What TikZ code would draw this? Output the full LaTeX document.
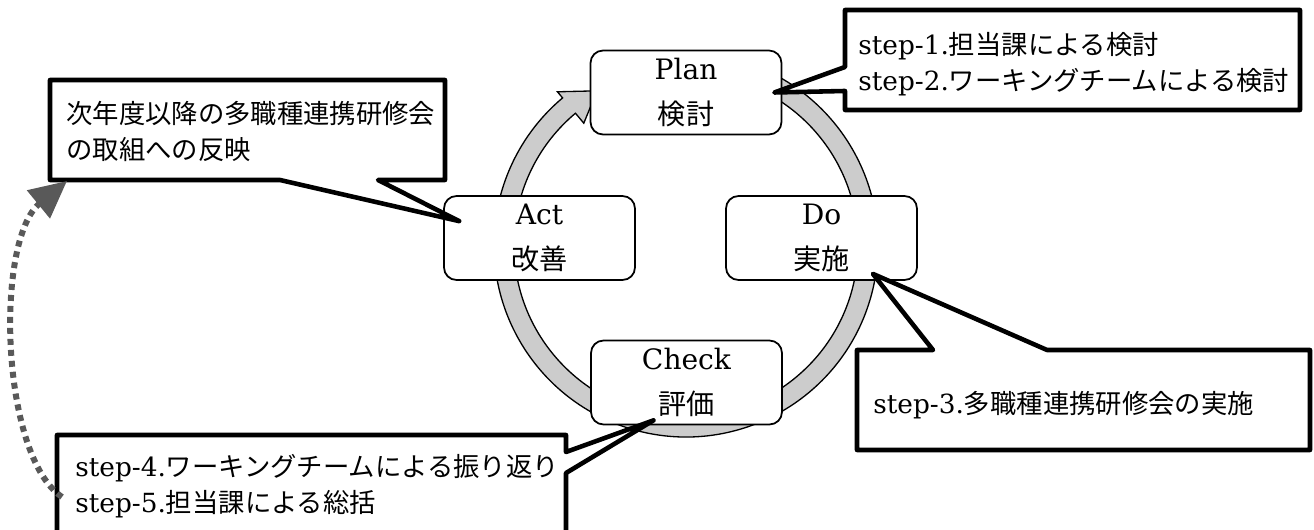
\documentclass[tikz,border=0pt]{standalone}
\usepackage{fontspec}
\setmainfont{DejaVu Serif}
\newfontfamily\jp{Noto Sans CJK JP}
\usetikzlibrary{arrows.meta}

\begin{document}
\begin{tikzpicture}[x=0.02cm, y=0.02cm,
	phase/.style={draw=black, fill=white, line width=1pt, rounded corners=0.25cm, minimum width=3.82cm, minimum height=1.68cm, align=center, font=\fontsize{16}{26}\selectfont},
	callout/.style={draw=black, fill=white, line width=2.6pt, line join=round},
	note/.style={anchor=west, align=left, inner sep=0pt, font=\fontsize{15}{20.5}\selectfont}]
	\useasboundingbox (0,0) rectangle (1314,530);

	% cycle ring
	\begin{scope}[shift={(686,285)}]
		\filldraw[draw=black, fill=black!20, line width=0.75pt] (75:192) arc[start angle=75, end angle=-230, radius=192] -- (-230:200) -- (-240:178) -- (-230:159) -- (-230:172) arc[start angle=-230, end angle=75, radius=172] -- cycle;
	\end{scope}

	\node[phase] (plan) at (686,437.5) {Plan\\{\jp 検討}};
	\node[phase] (act) at (539.5,292) {Act\\{\jp 改善}};
	\node[phase] (do) at (821.5,292) {Do\\{\jp 実施}};
	\node[phase] (check) at (686.5,147.5) {Check\\{\jp 評価}};

	\coordinate (tipA) at ([shift={(16,-26)}]act.north west);
	\coordinate (tipP) at ([shift={(-8,0)}]plan.east);
	\coordinate (tipD) at ([shift={(-45,7)}]do.south east);
	\coordinate (tipC) at ([shift={(-33,5)}]check.south);

	\filldraw[callout] (50,450) -- (445,450) -- (445,350) -- (378,350) -- (tipA) -- (280,350) -- (50,350) -- cycle;
	\node[note] (reflect) at (66,398.5) {{\jp 次年度以降の多職種連携研修会}\\{\jp の取組への反映}};

	\filldraw[callout] (845,520) -- (1300,520) -- (1300,420) -- (845,420) -- (845,439) -- (tipP) -- (845,463) -- cycle;
	\node[note] (study) at (858,465.5) {step-1.{\jp 担当課による検討}\\step-2.{\jp ワーキングチームによる検討}};

	\filldraw[callout] (857,180) -- (933,180) -- (tipD) -- (1047,180) -- (1310,180) -- (1310,80) -- (857,80) -- cycle;
	\node[note] (hold) at (873,125) {step-3.{\jp 多職種連携研修会の実施}};

	\filldraw[callout] (57,95) -- (566,95) -- (566,78) -- (tipC) -- (566,57) -- (566,-30) -- (57,-30) -- cycle;
	\node[note] (review) at (75,44) {step-4.{\jp ワーキングチームによる振り返り}\\step-5.{\jp 担当課による総括}};

	% feedback to next year
	\coordinate (backStart) at (62,33);
	\coordinate (backEnd) at (67,349);
	\draw[black!65, line width=0.12cm, dash pattern=on 0.12cm off 0.1cm, -{Triangle[length=0.74cm, width=0.7cm]}] (backStart) .. controls (0,75) and (-5,290) .. (backEnd);
\end{tikzpicture}
\end{document}
